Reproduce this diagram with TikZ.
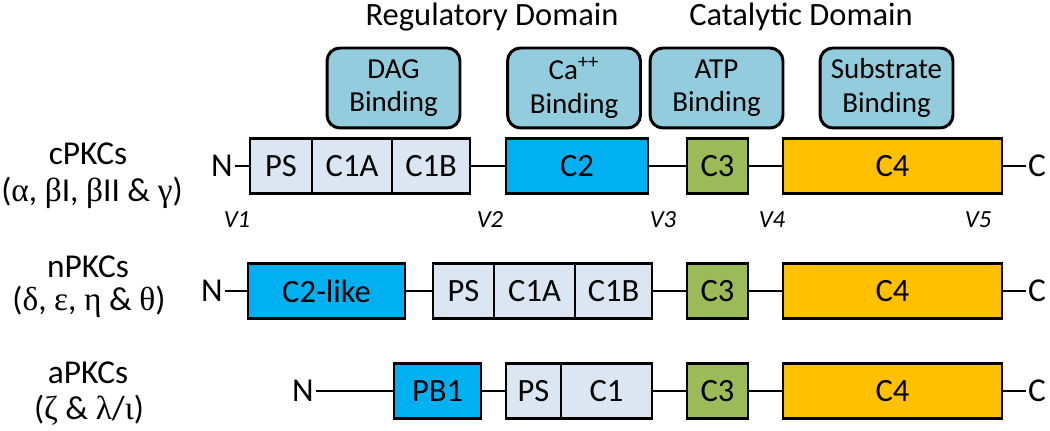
\documentclass[tikz,border=0pt]{standalone}
\usepackage{fontspec}
\setmainfont{Carlito}
\newfontfamily\grk{Liberation Serif}
\usetikzlibrary{positioning}
\definecolor{regfill}{HTML}{DCE6F2}
\definecolor{ctwo}{HTML}{00B0F0}
\definecolor{cthree}{HTML}{9BBB59}
\definecolor{cfour}{HTML}{FFC000}
\definecolor{bindfill}{HTML}{93CDDD}

\tikzset{
  dom/.style={draw, line width=1.3pt, minimum height=1.1cm, inner sep=0pt,
    font=\fontsize{18.5}{20}\selectfont},
  bind/.style={draw, line width=1.7pt, rounded corners=0.26cm, fill=bindfill,
    minimum width=2.66cm, minimum height=1.6cm, align=center, inner sep=0pt,
    font=\fontsize{16.5}{19}\selectfont},
  term/.style={font=\fontsize{19}{21}\selectfont, inner sep=1pt},
  vlab/.style={font=\fontsize{14}{16}\selectfont\itshape},
  fam/.style={font=\fontsize{19}{21}\selectfont, inner sep=0pt},
  link/.style={line width=1.3pt}
}

\begin{document}
\begin{tikzpicture}[x=0.02cm, y=-0.02cm]
\useasboundingbox (0, 0) rectangle (1050, 431);

% domain titles and binding sites
\node[font=\fontsize{18.5}{21}\selectfont] (regt) at (492, 17) {Regulatory Domain};
\node[font=\fontsize{18.5}{21}\selectfont] (catt) at (801, 17) {Catalytic Domain};
\node[bind] (dag) at (393.5, 88) {DAG\\Binding};
\node[bind] (ca) at (574, 88) {Ca\textsuperscript{++}\\Binding};
\node[bind] (atp) at (716.5, 88) {ATP\\Binding};
\node[bind] (sub) at (886.5, 88) {Substrate\\Binding};

% cPKCs
\node[fam] (cfam) at (88, 154) {cPKCs};
\node[fam] (cgrk) at (92, 193) {({\grk α}, {\grk β}I, {\grk β}II \& {\grk γ})};
\node[term] (cn) at (222, 166) {N};
\node[dom, fill=regfill, minimum width=1.24cm] (cps) at (281, 166) {PS};
\node[dom, fill=regfill, minimum width=1.6cm] (cc1a) at (352, 166) {C1A};
\node[dom, fill=regfill, minimum width=1.56cm] (cc1b) at (431, 166) {C1B};
\node[dom, fill=ctwo, minimum width=2.84cm] (cc2) at (577, 166) {C2};
\node[dom, fill=cthree, minimum width=1.22cm] (cc3) at (717.5, 166) {C3};
\node[dom, fill=cfour, minimum width=4.38cm] (cc4) at (892.5, 166) {C4};
\node[term] (cc) at (1037, 166) {C};
\draw[link] (cn) -- (cps);
\draw[link] (cc1b) -- (cc2);
\draw[link] (cc2) -- (cc3);
\draw[link] (cc3) -- (cc4);
\draw[link] (cc4) -- (cc);
\node[vlab] (v1) at (237, 220) {V1};
\node[vlab] (v2) at (490, 220) {V2};
\node[vlab] (v3) at (663, 220) {V3};
\node[vlab] (v4) at (772, 220) {V4};
\node[vlab] (v5) at (978, 220) {V5};

% nPKCs
\node[fam] (nfam) at (88, 267) {nPKCs};
\node[fam] (ngrk) at (89, 302) {({\grk δ}, {\grk ε}, {\grk η} \& {\grk θ})};
\node[term] (nn) at (212, 291) {N};
\node[dom, fill=ctwo, minimum width=3.14cm] (nc2) at (326.5, 291) {C2-like};
\node[dom, fill=regfill, minimum width=1.22cm] (nps) at (463.5, 291) {PS};
\node[dom, fill=regfill, minimum width=1.62cm] (nc1a) at (534.5, 291) {C1A};
\node[dom, fill=regfill, minimum width=1.54cm] (nc1b) at (613.5, 291) {C1B};
\node[dom, fill=cthree, minimum width=1.22cm] (nc3) at (717.5, 291) {C3};
\node[dom, fill=cfour, minimum width=4.38cm] (nc4) at (892.5, 291) {C4};
\node[term] (nc) at (1037, 291) {C};
\draw[link] (nn) -- (nc2);
\draw[link] (nc2) -- (nps);
\draw[link] (nc1b) -- (nc3);
\draw[link] (nc3) -- (nc4);
\draw[link] (nc4) -- (nc);

% aPKCs
\node[fam] (afam) at (88, 373) {aPKCs};
\node[fam] (agrk) at (89, 410) {({\grk ζ} \& {\grk λ}/{\grk ι})};
\node[term] (an) at (303, 391) {N};
\node[dom, fill=ctwo, minimum width=1.74cm] (apb1) at (437.5, 391) {PB1};
\node[dom, fill=regfill, minimum width=1.1cm] (aps) at (533.5, 391) {PS};
\node[dom, fill=regfill, minimum width=1.82cm] (ac1) at (606.5, 391) {C1};
\node[dom, fill=cthree, minimum width=1.22cm] (ac3) at (717.5, 391) {C3};
\node[dom, fill=cfour, minimum width=4.38cm] (ac4) at (892.5, 391) {C4};
\node[term] (ac) at (1037, 391) {C};
\draw[link] (an) -- (apb1);
\draw[link] (apb1) -- (aps);
\draw[link] (ac1) -- (ac3);
\draw[link] (ac3) -- (ac4);
\draw[link] (ac4) -- (ac);
\end{tikzpicture}
\end{document}
